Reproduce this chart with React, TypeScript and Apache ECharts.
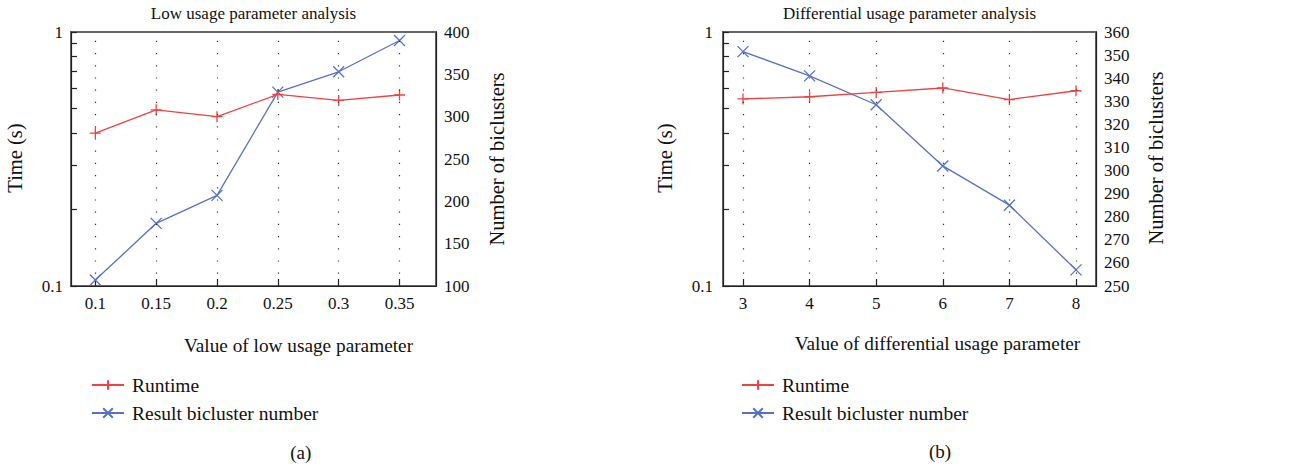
import React, { useEffect, useRef } from "react";
import * as echarts from "echarts";

// ---- data ----
const lowUsageX = [0.1, 0.15, 0.2, 0.25, 0.3, 0.35];
const lowRuntime = [0.4, 0.494, 0.464, 0.568, 0.538, 0.565];
const lowBiclusters = [107, 174, 207, 329, 353, 390];

const diffUsageX = [3, 4, 5, 6, 7, 8];
const diffRuntime = [0.545, 0.556, 0.578, 0.602, 0.542, 0.587];
const diffBiclusters = [351.5, 341, 328.5, 302, 285, 257];

const titles = ["Low usage parameter analysis", "Differential usage parameter analysis"];
const xNames = ["Value of low usage parameter", "Value of differential usage parameter"];
const panelLabels = ["(a)", "(b)"];
const seriesNames = ["Runtime", "Result bicluster number"];

const RED = "#ee4343";
const BLUE = "#5572c6";
const FAMILY = "Liberation Serif";
const FONT = "'Liberation Serif', 'DejaVu Serif', serif";
const PLUS = "path://M0,5L10,5M5,0L5,10";
const CROSS = "path://M0,0L10,10M10,0L0,10";

function pairs(xs: number[], ys: number[]) {
  return xs.map((x, i) => [x, ys[i]]);
}

export default function App() {
  const ref = useRef<HTMLDivElement>(null);

  useEffect(() => {
    if (!ref.current) return;
    const chart = echarts.init(ref.current, undefined, { renderer: "svg" });

    const grids = [
      { left: 71, top: 32, width: 365, height: 254 },
      { left: 723, top: 32, width: 373, height: 254 },
    ];
    const xRanges = [
      { min: 0.08, max: 0.38, values: lowUsageX },
      { min: 2.7, max: 8.3, values: diffUsageX },
    ];

    const axisLine = { show: true, lineStyle: { color: "#222", width: 1.2 } };
    const tickLabel = { fontFamily: FAMILY, fontSize: 17, color: "#111" };
    const tickLine = { color: "#222", width: 1.2 };

    const xAxes = xRanges.map((a, i) => ({
      type: "value",
      gridIndex: i,
      min: a.min,
      max: a.max,
      axisLine,
      splitLine: { show: false },
      axisTick: { show: true, inside: true, length: 7, customValues: a.values, lineStyle: tickLine },
      axisLabel: { ...tickLabel, margin: 9, customValues: a.values },
    }));

    const yAxes: any[] = [];
    const rightRanges = [
      { min: 100, max: 400, interval: 50 },
      { min: 250, max: 360, interval: 10 },
    ];
    [0, 1].forEach((g) => {
      yAxes.push({
        type: "log",
        logBase: 10,
        gridIndex: g,
        min: 0.1,
        max: 1,
        position: "left",
        axisLine,
        axisTick: { show: true, inside: true, length: 6, lineStyle: tickLine },
        minorTick: { show: true, splitNumber: 9, length: 6, lineStyle: tickLine },
        splitLine: { show: false },
        minorSplitLine: { show: false },
        axisLabel: { ...tickLabel, margin: g === 0 ? 8 : 10 },
      });
      yAxes.push({
        type: "value",
        gridIndex: g,
        min: rightRanges[g].min,
        max: rightRanges[g].max,
        interval: rightRanges[g].interval,
        position: "right",
        axisLine,
        axisTick: { show: false },
        splitLine: { show: false },
        axisLabel: { ...tickLabel, margin: 8 },
      });
    });

    // dotted vertical grid lines at every x tick
    const gridLines = (g: number) => ({
      silent: true,
      symbol: ["none", "none"],
      label: { show: false },
      emphasis: { disabled: true },
      lineStyle: { color: "#333", type: [1.2, 11], width: 1.2 },
      data: xRanges[g].values.map((v) => ({ xAxis: v })),
    });

    const lineSeries = (name: string, g: number, yIdx: number, data: number[][], color: string, symbol: string, deco: boolean) => ({
      type: "line",
      name,
      xAxisIndex: g,
      yAxisIndex: yIdx,
      data,
      symbol,
      symbolSize: 11,
      showAllSymbol: true,
      lineStyle: { color, width: 1.3 },
      itemStyle: { color, borderColor: color, borderWidth: 1.3 },
      z: color === BLUE ? 3 : 4,
      ...(deco ? { markLine: gridLines(g) } : {}),
    });

    const series = [
      lineSeries(seriesNames[0], 0, 0, pairs(lowUsageX, lowRuntime), RED, PLUS, true),
      lineSeries(seriesNames[1], 0, 1, pairs(lowUsageX, lowBiclusters), BLUE, CROSS, false),
      lineSeries(seriesNames[0], 1, 2, pairs(diffUsageX, diffRuntime), RED, PLUS, true),
      lineSeries(seriesNames[1], 1, 3, pairs(diffUsageX, diffBiclusters), BLUE, CROSS, false),
    ];

    const legendBase = {
      orient: "vertical",
      top: 370,
      itemWidth: 32,
      itemHeight: 12,
      itemGap: 8,
      selectedMode: false,
      textStyle: { fontFamily: FAMILY, fontSize: 19.5, color: "#111", lineHeight: 20, padding: [0, 0, 0, 3] },
      data: seriesNames,
    };

    const text = (t: string, x: number, y: number, size: number, rotation = 0) => ({
      type: "text",
      x,
      y,
      rotation,
      style: { text: t, x: 0, y: 0, fill: "#111", font: `${size}px ${FONT}`, align: "center", verticalAlign: "middle" },
    });

    const graphic = [
      text(titles[0], 253.5, 13, 17),
      text(titles[1], 909.5, 13, 17),
      text(xNames[0], 298.5, 345, 19.3),
      text(xNames[1], 937.5, 343, 19.3),
      text(panelLabels[0], 300.7, 452, 19),
      text(panelLabels[1], 940, 451, 19),
      text("Time (s)", 15, 158, 20.5, Math.PI / 2),
      text("Number of biclusters", 497, 159, 20.5, Math.PI / 2),
      text("Time (s)", 665, 158, 20.5, Math.PI / 2),
      text("Number of biclusters", 1155.7, 158, 20.5, Math.PI / 2),
    ];

    chart.setOption({
      animation: false,
      backgroundColor: "#fff",
      textStyle: { fontFamily: FAMILY },
      grid: grids.map((g) => ({ ...g, show: true, borderColor: "#666", borderWidth: 2, backgroundColor: "transparent" })),
      xAxis: xAxes,
      yAxis: yAxes,
      legend: [
        { ...legendBase, left: 86 },
        { ...legendBase, left: 736 },
      ],
      series,
      graphic,
    } as any);

    return () => chart.dispose();
  }, []);

  return (
    <div
      ref={ref}
      style={{ position: "fixed", left: 0, top: 0, width: 1298, height: 466, background: "#fff" }}
    />
  );
}
